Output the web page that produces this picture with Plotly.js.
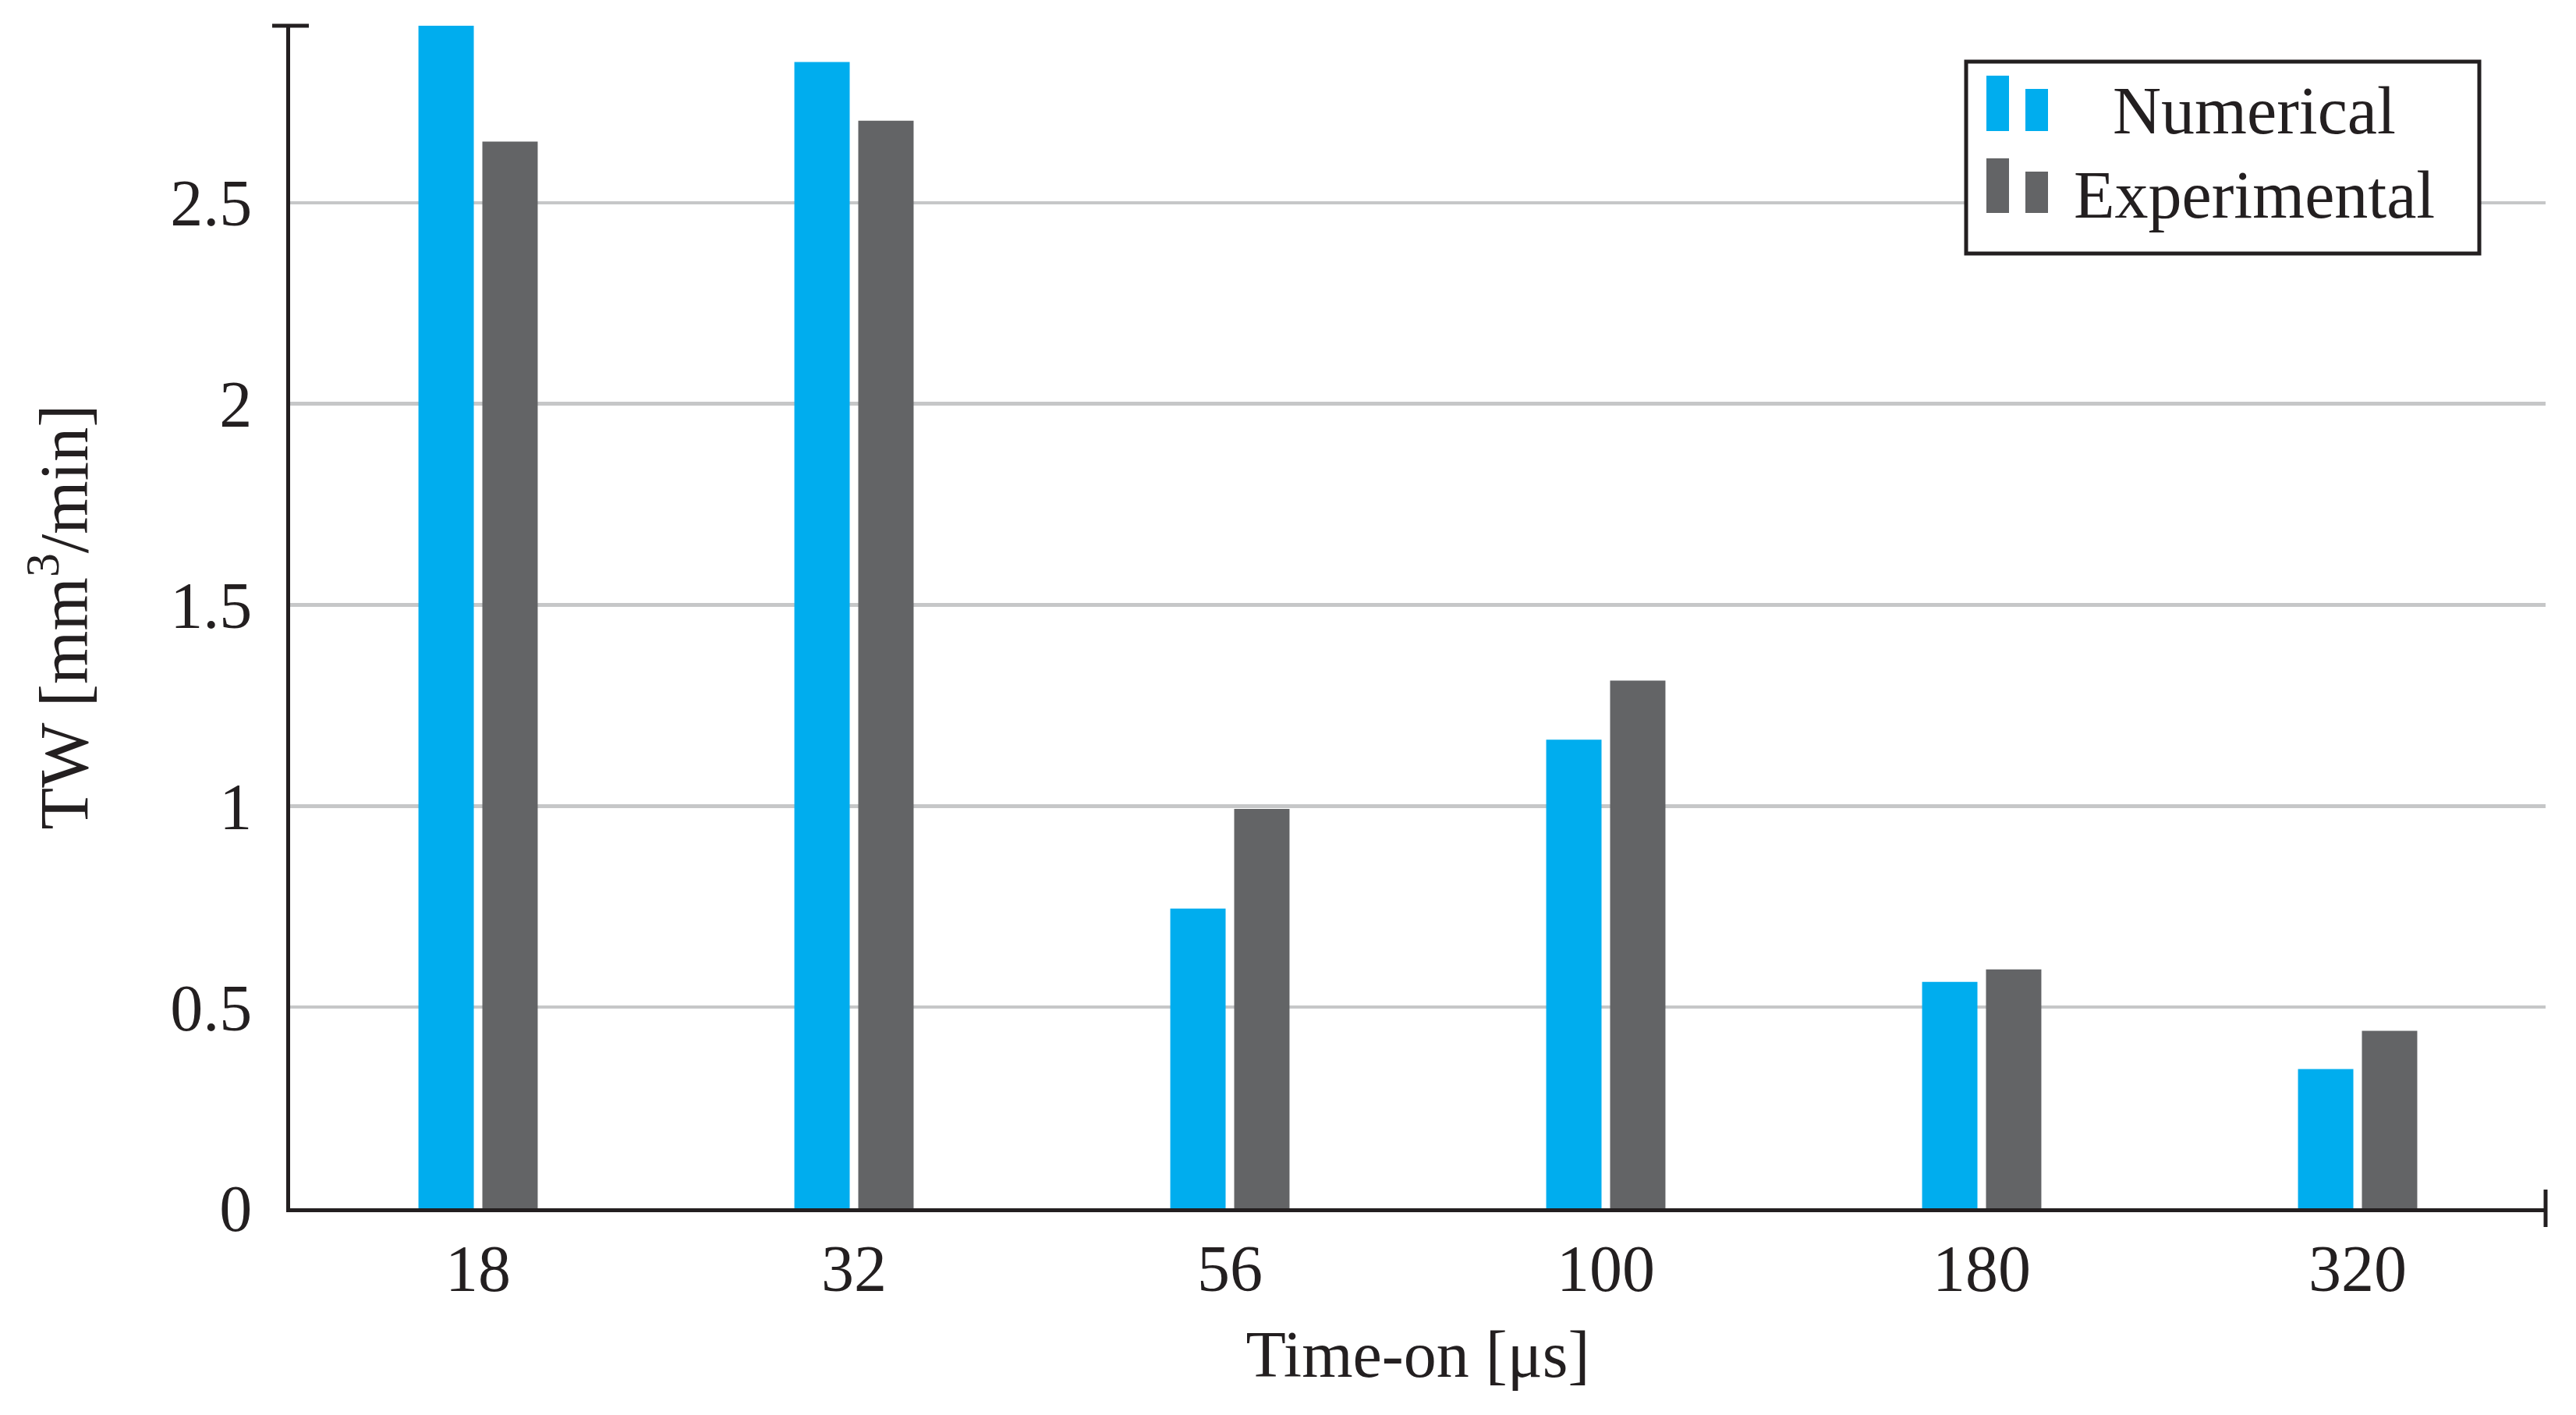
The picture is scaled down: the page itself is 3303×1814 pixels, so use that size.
<!DOCTYPE html>
<html>
<head>
<meta charset="utf-8">
<script src="https://cdn.plot.ly/plotly-3.0.1.min.js"></script>
<style>
html,body{margin:0;padding:0;background:#fff;}
#chart{width:3303px;height:1814px;}
</style>
</head>
<body>
<div id="chart"></div>
<script>
const categories = ["18", "32", "56", "100", "180", "320"];
const numerical = [2.94, 2.85, 0.745, 1.165, 0.563, 0.346];
const experimental = [2.652, 2.704, 0.993, 1.312, 0.594, 0.441];
const seriesNames = ["Numerical", "Experimental"];
const yTickVals = [0, 0.5, 1, 1.5, 2, 2.5];
const yTickText = ["0", "0.5", "1", "1.5", "2", "2.5"];

const colNum = "#00adee";
const colExp = "#636466";
const ink = "#231f20";
const FONT = "Liberation Serif, Times New Roman, serif";
const FS = 84;

const W = 3303, H = 1814;
const L = 372, R = 39, T = 33, B = 265;
const pw = W - L - R, ph = H - T - B;
const px = v => (v - L) / pw;           // pixel x -> paper x
const py = v => (H - B - v) / ph;       // pixel y -> paper y

const traces = [
  {type: "bar", name: seriesNames[0], x: categories, y: numerical,
   marker: {color: colNum}, hoverinfo: "x+y"},
  {type: "bar", name: seriesNames[1], x: categories, y: experimental,
   marker: {color: colExp}, hoverinfo: "x+y"}
];

const shapes = [
  // y-axis top cap
  {type: "line", xref: "paper", yref: "paper", x0: px(349), x1: px(396), y0: 1, y1: 1,
   line: {color: ink, width: 5}},
  // x-axis right end cap
  {type: "line", xref: "paper", yref: "paper", x0: 1, x1: 1, y0: py(1573), y1: py(1525),
   line: {color: ink, width: 5}},
  // legend box
  {type: "rect", xref: "paper", yref: "paper", x0: px(2521), x1: px(3179), y0: py(79), y1: py(325),
   line: {color: ink, width: 5}, fillcolor: "#ffffff", layer: "above"},
  // legend icons: numerical
  {type: "rect", xref: "paper", yref: "paper", x0: px(2547), x1: px(2576), y0: py(97), y1: py(168),
   line: {width: 0}, fillcolor: colNum, layer: "above"},
  {type: "rect", xref: "paper", yref: "paper", x0: px(2597), x1: px(2626), y0: py(114), y1: py(168),
   line: {width: 0}, fillcolor: colNum, layer: "above"},
  // legend icons: experimental
  {type: "rect", xref: "paper", yref: "paper", x0: px(2547), x1: px(2576), y0: py(203), y1: py(273),
   line: {width: 0}, fillcolor: colExp, layer: "above"},
  {type: "rect", xref: "paper", yref: "paper", x0: px(2597), x1: px(2626), y0: py(220), y1: py(273),
   line: {width: 0}, fillcolor: colExp, layer: "above"}
];

const annotations = [
  {xref: "paper", yref: "paper", x: px(2890), y: py(142), text: seriesNames[0],
   showarrow: false, xanchor: "center", yanchor: "middle",
   font: {family: FONT, size: 86, color: ink}},
  {xref: "paper", yref: "paper", x: px(2890), y: py(250), text: seriesNames[1],
   showarrow: false, xanchor: "center", yanchor: "middle",
   font: {family: FONT, size: 86, color: ink}}
];

const layout = {
  width: W, height: H,
  margin: {l: L, r: R, t: T, b: B, pad: 0},
  paper_bgcolor: "#ffffff", plot_bgcolor: "#ffffff",
  showlegend: false,
  barmode: "group",
  bargap: 0.66,
  bargroupgap: 0.134,
  font: {family: FONT, size: FS, color: ink},
  xaxis: {
    type: "category",
    range: [-0.5, 5.5],
    showline: true, linecolor: ink, linewidth: 5,
    showgrid: false, zeroline: false, ticks: "",
    ticklabelstandoff: 0,
    tickfont: {family: FONT, size: FS, color: ink},
    title: {text: "Time-on [μs]", font: {family: FONT, size: FS, color: ink}, standoff: 36},
    automargin: false
  },
  yaxis: {
    range: [0, 2.94],
    tickvals: yTickVals, ticktext: yTickText,
    showline: true, linecolor: ink, linewidth: 5,
    showgrid: true, gridcolor: "#c6c7c8", gridwidth: 4.5,
    zeroline: false, ticks: "",
    ticklabelstandoff: 27,
    tickfont: {family: FONT, size: FS, color: ink},
    title: {text: "TW [mm<sup>3</sup>/min]", font: {family: FONT, size: 88, color: ink}, standoff: 78},
    automargin: false
  },
  shapes: shapes,
  annotations: annotations
};

Plotly.newPlot("chart", traces, layout, {displayModeBar: false, staticPlot: true});
</script>
</body>
</html>
